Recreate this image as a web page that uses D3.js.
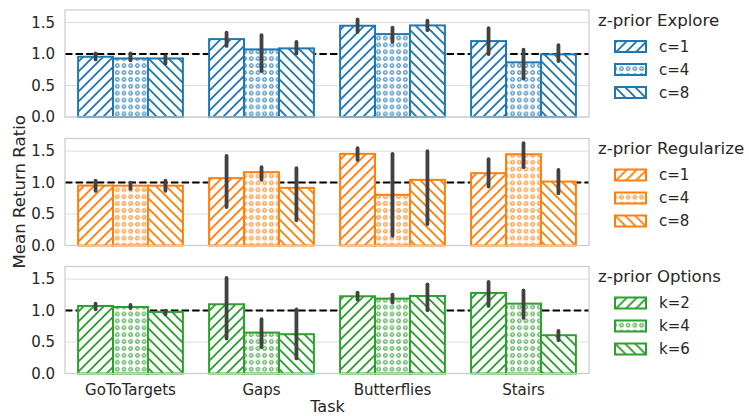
<!DOCTYPE html>
<html>
<head>
<meta charset="utf-8">
<script src="https://cdn.jsdelivr.net/npm/d3@7"></script>
<style>
  body { margin: 0; background: #fff; }
  text { font-family: "DejaVu Sans", sans-serif; fill: #262626; }
</style>
</head>
<body>
<div id="graph"></div>
<script>
const width = 749
const height = 416

// data
const tasks = ['GoToTargets', 'Gaps', 'Butterflies', 'Stairs']
const yTicks = [0, 0.5, 1.0, 1.5]

const exploreLabels = ['c=1', 'c=4', 'c=8']
const exploreMean = [[0.957, 1.238, 1.45, 1.206], [0.93, 1.074, 1.317, 0.868], [0.93, 1.09, 1.455, 0.995]]
const exploreLo = [[0.915, 1.13, 1.35, 1.0], [0.90, 0.73, 1.195, 0.61], [0.85, 1.01, 1.38, 0.89]]
const exploreHi = [[1.01, 1.34, 1.55, 1.41], [1.01, 1.30, 1.42, 1.07], [0.97, 1.195, 1.53, 1.14]]

const regularizeLabels = ['c=1', 'c=4', 'c=8']
const regularizeMean = [[0.952, 1.07, 1.456, 1.149], [0.95, 1.165, 0.805, 1.45], [0.95, 0.916, 1.043, 1.016]]
const regularizeLo = [[0.87, 0.61, 1.36, 0.937], [0.90, 1.043, 0.154, 1.244], [0.87, 0.40, 0.34, 0.83]]
const regularizeHi = [[1.03, 1.424, 1.546, 1.37], [1.0, 1.244, 1.456, 1.625], [1.03, 1.23, 1.50, 1.20]]

const optionsLabels = ['k=2', 'k=4', 'k=6']
const optionsMean = [[1.073, 1.10, 1.227, 1.28], [1.057, 0.65, 1.19, 1.11], [0.978, 0.624, 1.232, 0.608]]
const optionsLo = [[1.02, 0.556, 1.175, 1.073], [1.04, 0.42, 1.127, 0.883], [0.94, 0.24, 1.005, 0.529]]
const optionsHi = [[1.11, 1.517, 1.286, 1.454], [1.09, 0.862, 1.254, 1.32], [1.0, 1.02, 1.417, 0.676]]

const panels = [
  { title: 'z-prior Explore', color: '#1f77b4', labels: exploreLabels, mean: exploreMean, lo: exploreLo, hi: exploreHi },
  { title: 'z-prior Regularize', color: '#ff7f0e', labels: regularizeLabels, mean: regularizeMean, lo: regularizeLo, hi: regularizeHi },
  { title: 'z-prior Options', color: '#2ca02c', labels: optionsLabels, mean: optionsMean, lo: optionsLo, hi: optionsHi }
]

const left = 65
const right = 589
const panelTops = [10, 138.5, 266.5]
const panelH = 107
const hatches = ['fwd', 'dots', 'back']

const svg = d3.select('#graph').append('svg')
  .attr('width', width)
  .attr('height', height)

const defs = svg.append('defs')

// hatch patterns, one set per colour
panels.forEach((p, pi) => {
  const fwd = defs.append('pattern').attr('id', 'fwd' + pi)
    .attr('patternUnits', 'userSpaceOnUse').attr('width', 10).attr('height', 10)
  fwd.append('rect').attr('width', 10).attr('height', 10).attr('fill', '#fff')
  fwd.append('path').attr('d', 'M0,10 L10,0 M-2.5,2.5 L2.5,-2.5 M7.5,12.5 L12.5,7.5')
    .attr('stroke', p.color).attr('stroke-width', 1.9)

  const back = defs.append('pattern').attr('id', 'back' + pi)
    .attr('patternUnits', 'userSpaceOnUse').attr('width', 10).attr('height', 10)
  back.append('rect').attr('width', 10).attr('height', 10).attr('fill', '#fff')
  back.append('path').attr('d', 'M0,0 L10,10 M-2.5,7.5 L2.5,12.5 M7.5,-2.5 L12.5,2.5')
    .attr('stroke', p.color).attr('stroke-width', 1.9)

  const dots = defs.append('pattern').attr('id', 'dots' + pi)
    .attr('patternUnits', 'userSpaceOnUse').attr('width', 6.7).attr('height', 6.9)
  dots.append('rect').attr('width', 6.7).attr('height', 6.9).attr('fill', '#fff')
  dots.append('circle').attr('cx', 3.35).attr('cy', 3.45).attr('r', 1.7)
    .attr('fill', 'none').attr('stroke', p.color).attr('stroke-width', 1.1)
})

const x0 = d3.scaleBand().domain(tasks).range([left, right]).paddingInner(0.2).paddingOuter(0.1)
const x1 = d3.scaleBand().domain([0, 1, 2]).range([0, x0.bandwidth()])

panels.forEach((p, pi) => {
  const top = panelTops[pi]
  const y = d3.scaleLinear().domain([0, 1.7]).range([top + panelH, top])
  const g = svg.append('g')

  // grid
  g.selectAll('line.grid').data(yTicks).join('line')
    .attr('x1', left).attr('x2', right)
    .attr('y1', d => y(d)).attr('y2', d => y(d))
    .attr('stroke', '#dcdcdc').attr('stroke-width', 1)

  // y axis
  const yAxis = d3.axisLeft(y).tickValues(yTicks).tickFormat(d3.format('.1f')).tickSize(0).tickPadding(10)
  const ya = g.append('g').attr('transform', `translate(${left},0)`).call(yAxis)
  ya.select('.domain').remove()
  ya.selectAll('text').style('font-size', '15px').attr('fill', '#262626')

  // reference line at 1
  g.append('line')
    .attr('x1', left).attr('x2', right)
    .attr('y1', y(1)).attr('y2', y(1))
    .attr('stroke', '#000').attr('stroke-width', 2)
    .attr('stroke-dasharray', '7.4,3.2')

  // bars
  p.labels.forEach((lab, si) => {
    g.selectAll(null).data(tasks).join('rect')
      .attr('x', d => x0(d) + x1(si))
      .attr('y', (d, i) => y(p.mean[si][i]))
      .attr('width', x1.bandwidth())
      .attr('height', (d, i) => y(0) - y(p.mean[si][i]))
      .attr('fill', `url(#${hatches[si]}${pi})`)
      .attr('stroke', p.color).attr('stroke-width', 2)
  })

  // error bars
  p.labels.forEach((lab, si) => {
    g.selectAll(null).data(tasks).join('line')
      .attr('x1', d => x0(d) + x1(si) + x1.bandwidth() / 2)
      .attr('x2', d => x0(d) + x1(si) + x1.bandwidth() / 2)
      .attr('y1', (d, i) => y(p.lo[si][i]))
      .attr('y2', (d, i) => y(p.hi[si][i]))
      .attr('stroke', '#424242').attr('stroke-width', 3.8)
      .attr('stroke-linecap', 'round')
  })

  // frame
  g.append('rect')
    .attr('x', left).attr('y', top)
    .attr('width', right - left).attr('height', panelH)
    .attr('fill', 'none').attr('stroke', '#cccccc').attr('stroke-width', 1.25)

  // legend
  const lg = svg.append('g').attr('transform', `translate(598,${top})`)
  lg.append('text').attr('x', 0).attr('y', 10).attr('dy', '0.36em')
    .style('font-size', '16.6px').text(p.title)
  p.labels.forEach((lab, si) => {
    const cy = 36.5 + si * 23
    lg.append('rect')
      .attr('x', 17).attr('y', cy - 5.5).attr('width', 31).attr('height', 11)
      .attr('fill', `url(#${hatches[si]}${pi})`)
      .attr('stroke', p.color).attr('stroke-width', 2)
    lg.append('text').attr('x', 61).attr('y', cy).attr('dy', '0.36em')
      .style('font-size', '15px').text(lab)
  })
})

// x axis labels on bottom panel
const xa = svg.append('g').attr('transform', `translate(0,${panelTops[2] + panelH})`)
  .call(d3.axisBottom(x0).tickSize(0).tickPadding(11))
xa.select('.domain').remove()
xa.selectAll('text').style('font-size', '15px').attr('fill', '#262626')

svg.append('text')
  .attr('x', (left + right) / 2 + 0.5).attr('y', 412)
  .attr('text-anchor', 'middle')
  .style('font-size', '16px')
  .text('Task')

svg.append('text')
  .attr('transform', `translate(24.5,${(panelTops[0] + panelTops[2] + panelH) / 2}) rotate(-90)`)
  .attr('text-anchor', 'middle')
  .style('font-size', '16.6px')
  .text('Mean Return Ratio')
</script>
</body>
</html>
